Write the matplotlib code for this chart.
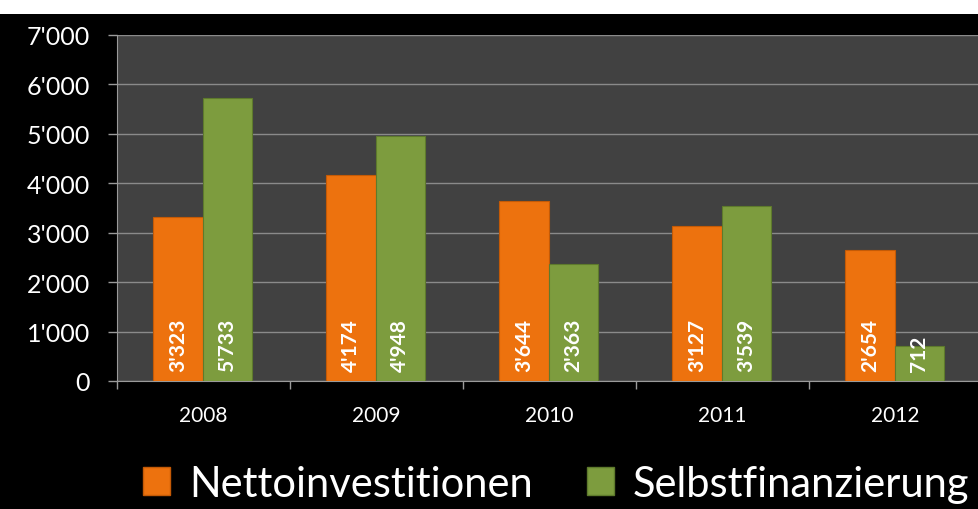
import matplotlib
matplotlib.use("Agg")
import matplotlib.pyplot as plt
from matplotlib.patches import Rectangle, Patch
from matplotlib.ticker import FuncFormatter, FixedLocator
import numpy as np

years = ["2008", "2009", "2010", "2011", "2012"]
netto = [3323, 4174, 3644, 3127, 2654]
selbst = [5733, 4948, 2363, 3539, 712]
series_names = ["Nettoinvestitionen", "Selbstfinanzierung"]

ORANGE = "#ED720E"
GREEN = "#7D9C3E"
FONT = ["Lato", "DejaVu Sans"]
plt.rcParams["font.family"] = FONT

def fmt(v):
    return f"{int(v):,}".replace(",", "'")

fig = plt.figure(figsize=(9.79, 5.10), dpi=100, facecolor="black")
fig.patches.append(Rectangle((0, 1 - 15 / 510), 1, 15 / 510, transform=fig.transFigure,
                             facecolor="white", edgecolor="none", zorder=0))

ax = fig.add_axes([117 / 979, 1 - 382 / 510, 865 / 979, 346 / 510])
ax.set_facecolor("#414141")
x = np.arange(len(years))
w = 0.285
b1 = ax.bar(x - w / 2 - 0.005, netto, w, color=ORANGE, edgecolor="#C45A06", linewidth=0.8, zorder=3)
b2 = ax.bar(x + w / 2 - 0.005, selbst, w, color=GREEN, edgecolor="#5E7A2C", linewidth=0.8, zorder=3)

for bars, vals in ((b1, netto), (b2, selbst)):
    for r, v in zip(bars, vals):
        ax.text(r.get_x() + r.get_width() / 2, 200, fmt(v), rotation=90, ha="center", va="bottom",
                color="white", fontsize=15, fontweight="bold", zorder=4)

ax.set_xlim(-0.5, len(years) - 0.5)
ax.set_ylim(0, 7000)
ax.set_yticks(np.arange(0, 7001, 1000))
ax.yaxis.set_major_formatter(FuncFormatter(lambda v, p: fmt(v)))
ax.grid(axis="y", color="#8a8a8a", linewidth=1.0, zorder=1)
ax.set_xticks(x)
ax.set_xticklabels(years)
ax.xaxis.set_minor_locator(FixedLocator(np.arange(-0.5, len(years), 1.0)))
ax.tick_params(axis="x", which="major", length=0, pad=17, labelsize=15, labelcolor="white")
ax.tick_params(axis="x", which="minor", length=6, color="#9a9a9a", width=1)
ax.tick_params(axis="y", length=6.5, color="#9a9a9a", width=1, labelsize=18, labelcolor="white", pad=13)
for s in ("top", "right"):
    ax.spines[s].set_visible(False)
ax.spines["left"].set_color("#9a9a9a")
ax.spines["bottom"].set_color("#9a9a9a")

handles = [Patch(facecolor=ORANGE, edgecolor="#C45A06"), Patch(facecolor=GREEN, edgecolor="#5E7A2C")]
leg = fig.legend(handles, series_names, loc="center", bbox_to_anchor=(0.568, 1 - 485 / 510),
                 ncol=2, frameon=False, fontsize=30, labelcolor="white",
                 handlelength=0.65, handleheight=0.65, handletextpad=0.45, columnspacing=1.3)

fig.savefig("out.png", dpi=100, facecolor=fig.get_facecolor())
